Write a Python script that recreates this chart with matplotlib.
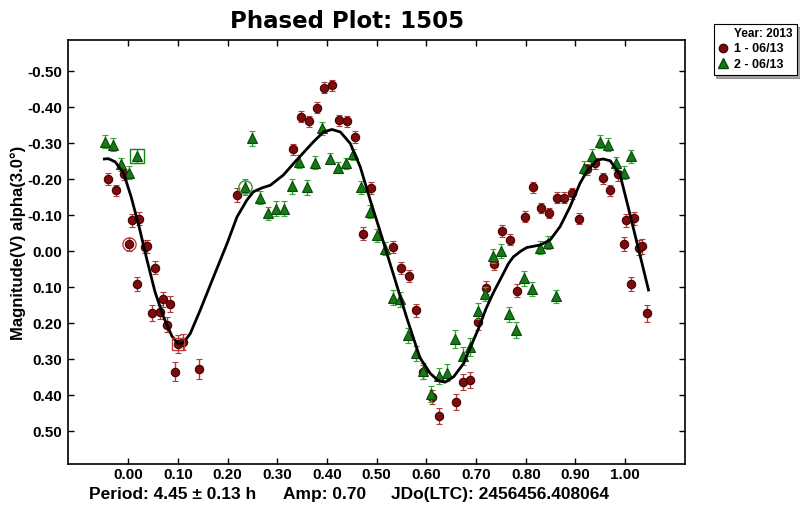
import numpy as np
import matplotlib.pyplot as plt
from matplotlib.lines import Line2D

# session 1 (red circles)
red_x = [-0.040, -0.025, -0.009, 0.001, 0.007, 0.017, 0.022, 0.033, 0.038, 0.048,
         0.054, 0.064, 0.070, 0.079, 0.085, 0.095, 0.101, 0.111, 0.142, 0.219,
         0.331, 0.347, 0.363, 0.379, 0.395, 0.410, 0.425, 0.441, 0.456, 0.472,
         0.489, 0.532, 0.548, 0.565, 0.579, 0.594, 0.611, 0.626, 0.659, 0.673,
         0.688, 0.704, 0.720, 0.736, 0.752, 0.768, 0.783, 0.798, 0.815, 0.830,
         0.846, 0.862, 0.877, 0.893, 0.908, 0.924, 0.939, 0.955, 0.970, 0.985,
         0.997, 1.002, 1.012, 1.017, 1.027, 1.033, 1.044]
red_y = [-0.201, -0.169, -0.213, -0.019, -0.086, 0.092, -0.090, -0.012, -0.014, 0.171,
         0.046, 0.169, 0.134, 0.204, 0.147, 0.335, 0.258, 0.252, 0.328, -0.156,
         -0.283, -0.373, -0.361, -0.399, -0.454, -0.461, -0.363, -0.361, -0.317, -0.048,
         -0.175, -0.011, 0.047, 0.069, 0.164, 0.336, 0.406, 0.457, 0.419, 0.363,
         0.358, 0.198, 0.102, 0.036, -0.056, -0.032, 0.110, -0.096, -0.177, -0.120,
         -0.106, -0.149, -0.148, -0.161, -0.090, -0.227, -0.244, -0.202, -0.169, -0.214,
         -0.019, -0.086, 0.092, -0.091, -0.010, -0.013, 0.173]
red_err = [0.016, 0.016, 0.016, 0.018, 0.018, 0.020, 0.018, 0.018, 0.018, 0.022,
           0.018, 0.020, 0.020, 0.020, 0.022, 0.026, 0.024, 0.022, 0.027, 0.020,
           0.015, 0.015, 0.015, 0.015, 0.015, 0.015, 0.015, 0.015, 0.016, 0.018,
           0.016, 0.016, 0.016, 0.016, 0.018, 0.020, 0.020, 0.022, 0.022, 0.022,
           0.022, 0.020, 0.018, 0.016, 0.016, 0.016, 0.018, 0.015, 0.015, 0.015,
           0.015, 0.015, 0.015, 0.015, 0.016, 0.016, 0.016, 0.016, 0.016, 0.018,
           0.020, 0.018, 0.020, 0.018, 0.022, 0.022, 0.024]

# session 2 (green triangles)
green_x = [-0.046, -0.030, -0.014, 0.002, 0.017, 0.235, 0.250, 0.266, 0.282, 0.298,
           0.313, 0.329, 0.344, 0.360, 0.376, 0.391, 0.407, 0.423, 0.438, 0.453,
           0.469, 0.486, 0.500, 0.516, 0.532, 0.547, 0.564, 0.579, 0.594, 0.610,
           0.626, 0.641, 0.657, 0.673, 0.688, 0.704, 0.719, 0.735, 0.751, 0.767,
           0.781, 0.797, 0.813, 0.829, 0.844, 0.860, 0.918, 0.934, 0.950, 0.966,
           0.981, 0.997, 1.012]
green_y = [-0.304, -0.296, -0.241, -0.218, -0.265, -0.179, -0.313, -0.149, -0.105, -0.118,
           -0.118, -0.180, -0.248, -0.177, -0.246, -0.341, -0.257, -0.232, -0.244, -0.269,
           -0.177, -0.109, -0.044, -0.007, 0.129, 0.134, 0.234, 0.284, 0.332, 0.397,
           0.346, 0.338, 0.244, 0.291, 0.266, 0.167, 0.119, 0.014, -0.001, 0.176,
           0.218, 0.076, 0.106, -0.010, -0.023, 0.125, -0.232, -0.265, -0.304, -0.295,
           -0.244, -0.218, -0.264]
green_err = [0.018, 0.018, 0.018, 0.018, 0.020, 0.022, 0.020, 0.018, 0.018, 0.020,
             0.020, 0.020, 0.018, 0.020, 0.018, 0.018, 0.016, 0.016, 0.016, 0.016,
             0.018, 0.018, 0.018, 0.018, 0.020, 0.020, 0.020, 0.020, 0.022, 0.022,
             0.022, 0.024, 0.024, 0.024, 0.026, 0.022, 0.020, 0.020, 0.020, 0.022,
             0.022, 0.020, 0.020, 0.018, 0.018, 0.018, 0.018, 0.018, 0.018, 0.018,
             0.018, 0.018, 0.018]

# fourier fit curve
fit_x = [-0.048, -0.040, -0.026, -0.009, 0.006, 0.022, 0.038, 0.054, 0.071, 0.088,
         0.101, 0.111, 0.125, 0.145, 0.172, 0.199, 0.219, 0.239, 0.252, 0.270,
         0.286, 0.312, 0.339, 0.373, 0.393, 0.410, 0.427, 0.447, 0.467, 0.487,
         0.507, 0.534, 0.561, 0.587, 0.608, 0.624, 0.638, 0.655, 0.675, 0.695,
         0.705, 0.720, 0.735, 0.752, 0.765, 0.775, 0.790, 0.802, 0.829, 0.849,
         0.869, 0.889, 0.909, 0.923, 0.943, 0.956, 0.970, 0.990, 1.006, 1.027, 1.047]
fit_y = [-0.256, -0.257, -0.248, -0.216, -0.151, -0.068, 0.025, 0.113, 0.182, 0.236,
         0.258, 0.255, 0.229, 0.164, 0.071, -0.021, -0.095, -0.142, -0.165, -0.176,
         -0.183, -0.211, -0.253, -0.304, -0.331, -0.338, -0.331, -0.299, -0.234, -0.142,
         -0.055, 0.066, 0.187, 0.296, 0.340, 0.360, 0.364, 0.349, 0.312, 0.247,
         0.215, 0.160, 0.115, 0.070, 0.035, 0.016, 0.000, -0.010, -0.017, -0.031,
         -0.068, -0.123, -0.188, -0.222, -0.253, -0.256, -0.251, -0.211, -0.123, -0.005, 0.108]

# first points of each session are marked
red_circ = (0.001, -0.019)
red_box = (0.101, 0.258)
green_circ = (0.235, -0.179)
green_box = (0.017, -0.265)

x_ticks = np.round(np.arange(0, 1.01, 0.1), 2)
y_ticks = np.round(np.arange(-0.5, 0.51, 0.1), 2)

RED = '#7d0b0b'
GREEN = '#157a15'

def fmt(v):
    return '%.2f' % (v + 0.0) if abs(v) > 1e-9 else '0.00'

fig = plt.figure(figsize=(8, 5.09), dpi=100)
ax = fig.add_axes([0.085, 0.088, 0.771, 0.833])

ax.errorbar(red_x, red_y, yerr=red_err, fmt='o', ms=6, mfc=RED, mec='#450000', mew=0.8,
            ecolor='#b03c3c', elinewidth=1, capsize=2.5, capthick=1, zorder=3)
ax.errorbar(green_x, green_y, yerr=green_err, fmt='^', ms=6.5, mfc=GREEN, mec='#0b470b', mew=0.8,
            ecolor='#34a834', elinewidth=1, capsize=2.5, capthick=1, zorder=4)

ax.plot(*red_circ, marker='o', ms=9.5, mfc='none', mec='#c04040', mew=1, zorder=6)
ax.plot(*red_box, marker='s', ms=9, mfc='none', mec='#c04040', mew=1, zorder=6)
ax.plot(*green_circ, marker='o', ms=9.5, mfc='none', mec='#2a9a2a', mew=1, zorder=6)
ax.plot(*green_box, marker='s', ms=9.5, mfc='none', mec='#1a801a', mew=1, zorder=6)

ax.plot(fit_x, fit_y, color='black', lw=2, zorder=5, solid_joinstyle='round')

ax.set_xlim(-0.121, 1.12)
ax.set_ylim(0.592, -0.586)
ax.set_xticks(x_ticks)
ax.set_yticks(y_ticks)
ax.set_xticklabels([fmt(v) for v in x_ticks])
ax.set_yticklabels([fmt(v) for v in y_ticks])
ax.tick_params(direction='in', length=4, width=1, top=True, right=True, labelsize=11)
ax.tick_params(axis='x', pad=3)
ax.tick_params(axis='y', pad=4)
for lab in ax.get_xticklabels() + ax.get_yticklabels():
    lab.set_fontfamily('Liberation Sans')
    lab.set_fontweight('bold')
for sp in ax.spines.values():
    sp.set_linewidth(1.2)

fig.text(0.434, 0.957, 'Phased Plot: 1505', ha='center', va='center',
         fontsize=16.5, fontweight='bold', family='DejaVu Sans')
fig.text(0.0225, 0.523, 'Magnitude(V) alpha(3.0°)', rotation=90, ha='center', va='center',
         fontsize=12, fontweight='bold', family='Liberation Sans')

bottom_font = dict(fontsize=12.5, fontweight='bold', family='Liberation Sans', va='center')
fig.text(89 / 800, 0.029, 'Period: 4.45 ± 0.13 h', **bottom_font)
fig.text(283 / 800, 0.029, 'Amp: 0.70', **bottom_font)
fig.text(391 / 800, 0.029, 'JDo(LTC): 2456456.408064', **bottom_font)

handles = [Line2D([], [], ls='none', marker='o', ms=6, mfc=RED, mec='#450000'),
           Line2D([], [], ls='none', marker='^', ms=6.5, mfc=GREEN, mec='#0b470b')]
leg = fig.legend(handles, ['1 - 06/13', '2 - 06/13'], loc='upper right',
                 bbox_to_anchor=(0.996, 0.953), title='     Year: 2013', alignment='left',
                 prop={'family': 'Liberation Sans', 'weight': 'bold', 'size': 9},
                 title_fontproperties={'family': 'Liberation Sans', 'weight': 'bold', 'size': 8.5},
                 frameon=True, fancybox=False, shadow=True, handlelength=0.8,
                 handletextpad=0.5, borderpad=0.35, labelspacing=0.25, borderaxespad=0)
leg.get_frame().set_edgecolor('black')
leg.get_frame().set_linewidth(0.8)

fig.savefig('out.png', dpi=100)
